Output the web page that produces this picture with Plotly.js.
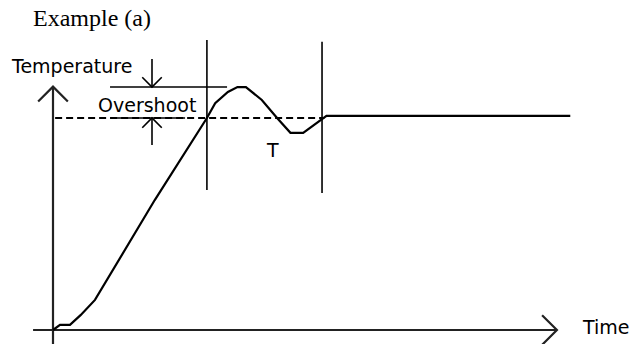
<!DOCTYPE html>
<html>
<head>
<meta charset="utf-8">
<script src="https://cdn.plot.ly/plotly-3.0.1.min.js"></script>
<style>
  html, body { margin: 0; padding: 0; background: #fff; }
  #chart { width: 631px; height: 344px; }
</style>
</head>
<body>
<div id="chart"></div>
<script>
// temperature response, setpoint = 100
var time = [0, 3.3, 8, 13, 19.8, 48, 72.6, 76.5, 82.5, 87, 91, 98.5, 105.7, 112, 118, 123.5, 127, 129, 244];
var temperature = [0, 2.4, 2.4, 7, 14.2, 61.3, 100, 107, 112.3, 114.6, 114.6, 108.5, 100, 93, 93, 97, 99.5, 101, 101];
var setpoint = 100;
var setpointSpan = [1, 128];
var markerTimes = [72.6, 126.9];   // vertical lines bounding T
var peak = 114.6;

var ink = '#000';
var axisInk = '#222';
var traces = [];

function line(x, y, width, color, dash) {
    traces.push({
        type: 'scatter', mode: 'lines', x: x, y: y, hoverinfo: 'skip',
        line: { color: color || ink, width: width || 2, dash: dash || 'solid', shape: 'linear' }
    });
}

// open chevron arrowhead
function chevron(tx, ty, dir, size, width, color) {
    var s = size;
    if (dir === 'up') line([tx - s, tx, tx + s], [ty - s, ty, ty - s], width, color);
    if (dir === 'down') line([tx - s, tx, tx + s], [ty + s, ty, ty + s], width, color);
    if (dir === 'right') line([tx - s, tx, tx - s], [ty + s, ty, ty - s], width, color);
}

// axes
line([0, 0], [-7, 114.8], 2.2, axisInk);
chevron(0, 114.8, 'up', 7, 2.2, axisInk);
line([-9.4, 237.7], [0, 0], 2.2, axisInk);
chevron(237.7, 0, 'right', 7, 2.2, axisInk);

// setpoint
line(setpointSpan, [setpoint, setpoint], 1.8, ink, '7px,4px');

// vertical markers
markerTimes.forEach(function (t, i) {
    line([t, t], [66 - i * 1.4, 136.8 - i * 0.8], 1.6);
});

// overshoot markers
line([26.9, 82.1], [peak, peak], 1.6);
line([26.9, 62.3], [setpoint, setpoint], 1.6);
line([46.7, 46.7], [127.8, peak], 1.6);
chevron(46.7, peak, 'down', 4.6, 1.6);
line([46.7, 46.7], [87.3, setpoint], 1.6);
chevron(46.7, setpoint, 'up', 4.6, 1.6);

// response curve
line(time, temperature, 2.2);

var sans = { family: 'DejaVu Sans', size: 19, color: '#000' };

var layout = {
    width: 631,
    height: 344,
    margin: { l: 0, r: 0, t: 0, b: 0 },
    paper_bgcolor: '#fff',
    plot_bgcolor: '#fff',
    showlegend: false,
    xaxis: { range: [-25.0, 272.64], visible: false, fixedrange: true },
    yaxis: { range: [-6.6, 155.66], visible: false, fixedrange: true },
    annotations: [
        { text: 'Example (a)', x: -10.2, y: 147.2, xanchor: 'left', yanchor: 'middle', showarrow: false,
          font: { family: 'Liberation Serif', size: 24, color: '#000' } },
        { text: 'Temperature', x: -20.7, y: 124.5, xanchor: 'left', yanchor: 'middle', showarrow: false, font: sans },
        { text: 'Overshoot', x: 20.4, y: 106.2, xanchor: 'left', yanchor: 'middle', showarrow: false, font: sans },
        { text: 'T', x: 103.3, y: 84.8, xanchor: 'center', yanchor: 'middle', showarrow: false, font: sans },
        { text: 'Time', x: 248.6, y: 1.4, xanchor: 'left', yanchor: 'middle', showarrow: false, font: sans }
    ]
};

Plotly.newPlot('chart', traces, layout, { displayModeBar: false, staticPlot: true });
</script>
</body>
</html>
